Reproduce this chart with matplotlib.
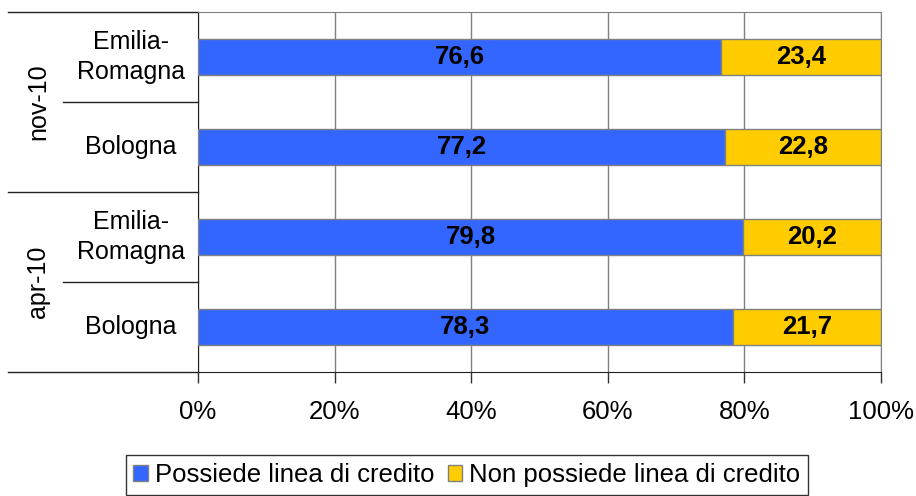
import numpy as np
import matplotlib.pyplot as plt
from matplotlib.patches import Patch

plt.rcParams['font.family'] = ['Liberation Sans', 'DejaVu Sans']

# rows from top to bottom
periods = ["nov-10", "apr-10"]
areas = ["Emilia-\nRomagna", "Bologna", "Emilia-\nRomagna", "Bologna"]
has_credit = [76.6, 77.2, 79.8, 78.3]
no_credit = [23.4, 22.8, 20.2, 21.7]
series_names = ["Possiede linea di credito", "Non possiede linea di credito"]
xticks = [0, 20, 40, 60, 80, 100]

BLUE = "#3366FF"
GOLD = "#FFCC00"
GRAY = "#808080"
FS = 18

fig = plt.figure(figsize=(9.16, 4.96), dpi=100)
ax = fig.add_axes([198/916, 1 - 372/496, 683/916, 360/496])

ypos = np.arange(len(areas))
ax.barh(ypos, has_credit, height=0.4, color=BLUE, edgecolor=GRAY, lw=1, zorder=3)
ax.barh(ypos, no_credit, left=has_credit, height=0.4, color=GOLD, edgecolor=GRAY, lw=1, zorder=3)

for y, a, b in zip(ypos, has_credit, no_credit):
    ax.text(a / 2, y, f"{a:.1f}".replace(".", ","), ha="center", va="center",
            fontsize=FS + 0.5, fontweight="bold", zorder=4)
    ax.text(a + b / 2, y, f"{b:.1f}".replace(".", ","), ha="center", va="center",
            fontsize=FS + 0.5, fontweight="bold", zorder=4)

ax.set_xlim(0, 100)
ax.set_ylim(len(areas) - 0.5, -0.5)
ax.set_xticks(xticks)
ax.set_xticklabels([f"{t}%" for t in xticks], fontsize=FS + 0.5)
ax.set_yticks([])
ax.tick_params(axis="x", direction="out", length=8, width=1, color="#333333", pad=12)
ax.grid(axis="x", color=GRAY, lw=1, zorder=0)

for s in ("top", "right"):
    ax.spines[s].set_color(GRAY)
for s in ("left", "bottom"):
    ax.spines[s].set_color("#222222")

# grouped category axis on the left
trans = ax.get_yaxis_transform()
for yb, x0 in [(-0.5, -0.278), (1.5, -0.278), (3.5, -0.278), (0.5, -0.198), (2.5, -0.198)]:
    ax.plot([x0, 0], [yb, yb], color="#222222", lw=1, transform=trans, clip_on=False)
for y, lab in zip(ypos, areas):
    ax.text(-0.098, y, lab, transform=trans, ha="center", va="center",
            fontsize=FS, linespacing=1.35)
for i, p in enumerate(periods):
    ax.text(-0.234, 2 * i + 0.5, p, transform=trans, ha="center", va="center",
            rotation=90, fontsize=FS)

handles = [Patch(facecolor=BLUE, edgecolor=GRAY), Patch(facecolor=GOLD, edgecolor=GRAY)]
leg = fig.legend(handles, series_names, loc="center", bbox_to_anchor=(467/916, 1 - 475/496),
                 ncol=2, fontsize=FS + 0.5, frameon=True, fancybox=False, edgecolor="black",
                 handlelength=0.55, handleheight=0.55, handletextpad=0.3, columnspacing=0.5,
                 borderpad=0.3, borderaxespad=0)
leg.get_frame().set_linewidth(1)

fig.savefig("out.png", dpi=100)
